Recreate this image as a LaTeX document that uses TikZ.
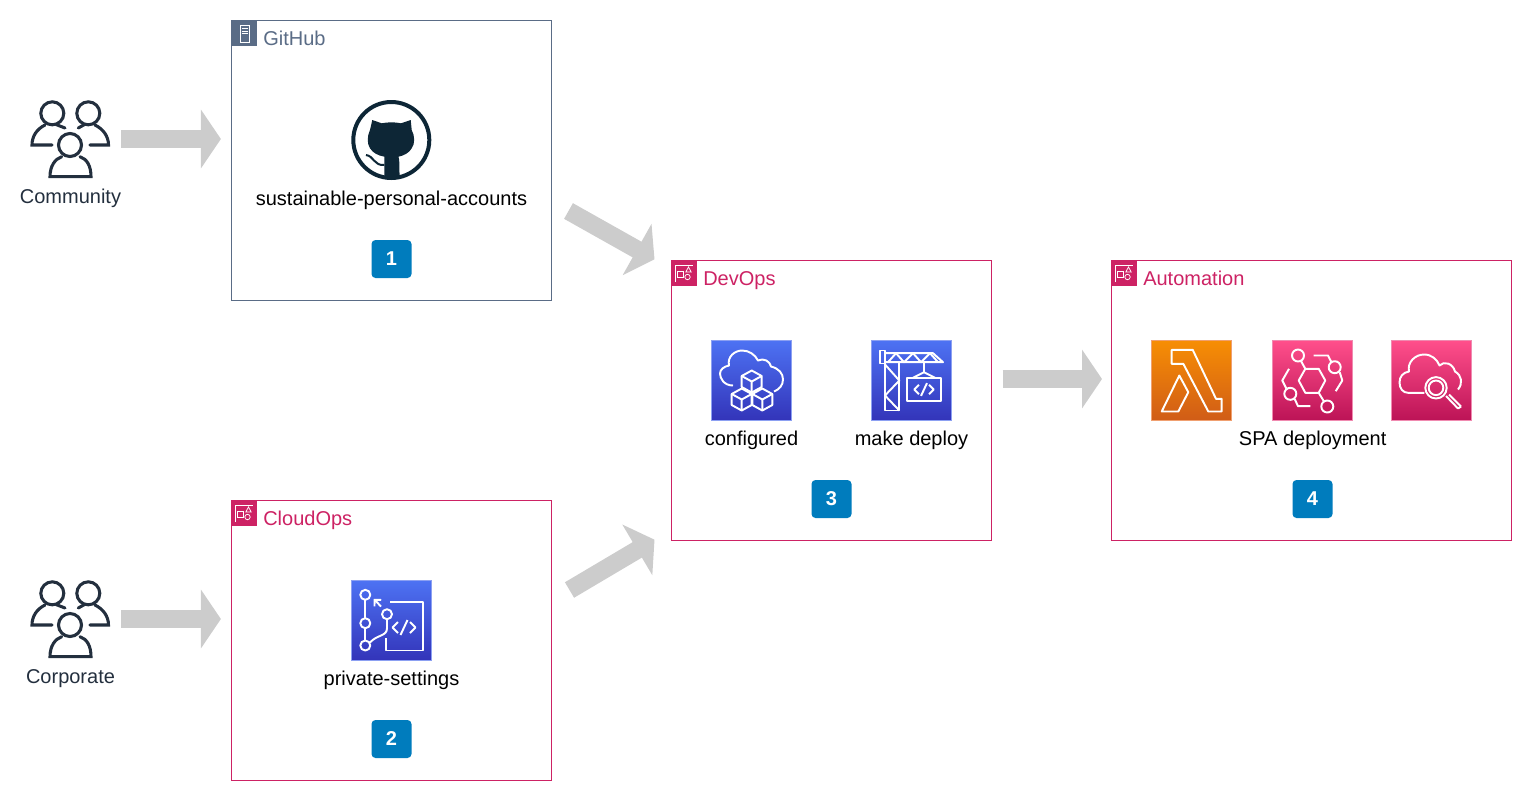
\documentclass[tikz,border=0pt]{standalone}
\usepackage{fontspec}
\setmainfont{Liberation Sans}
\usetikzlibrary{arrows.meta,shapes.geometric}
\definecolor{ghgrey}{HTML}{5A6C86}
\definecolor{awspink}{HTML}{CD2264}
\definecolor{badgeblue}{HTML}{007CBD}
\definecolor{flowgrey}{HTML}{CCCCCC}
\definecolor{inkblue}{HTML}{232F3E}
\definecolor{catblue}{HTML}{0D2636}
\definecolor{blue1}{HTML}{4D72F3}
\definecolor{blue2}{HTML}{3334B9}
\definecolor{blue3}{HTML}{8CA0F2}
\definecolor{orange1}{HTML}{F78E04}
\definecolor{orange2}{HTML}{D05C17}
\definecolor{orange3}{HTML}{F0A070}
\definecolor{pink1}{HTML}{FF4F8B}
\definecolor{pink2}{HTML}{BC1356}
\definecolor{pink3}{HTML}{F08AB0}
\tikzset{
  groupbox/.style={draw=#1, fill=white, line width=0.75pt, minimum width=240pt, minimum height=209.5pt, inner sep=0pt},
  flagbox/.style={fill=#1, minimum size=18.75pt, inner sep=0pt},
  grouplabel/.style={text=#1, anchor=base west, font=\fontsize{15}{18}\selectfont, inner sep=0pt},
  caption/.style={text=black, anchor=base, font=\fontsize{15}{18}\selectfont, inner sep=0pt},
  peoplecaption/.style={text=inkblue, anchor=base, font=\fontsize{15}{18}\selectfont, inner sep=0pt},
  badge/.style={fill=badgeblue, rounded corners=3pt, minimum width=30pt, minimum height=28.5pt, inner sep=0pt, text=white, font=\fontsize{15}{18}\selectfont\bfseries},
  bluetile/.style={top color=blue1, bottom color=blue2, draw=blue3, line width=0.5pt, minimum size=60pt, inner sep=0pt},
  orangetile/.style={top color=orange1, bottom color=orange2, draw=orange3, line width=0.5pt, minimum size=60pt, inner sep=0pt},
  pinktile/.style={top color=pink1, bottom color=pink2, draw=pink3, line width=0.5pt, minimum size=60pt, inner sep=0pt},
  flowarrow/.style={draw=flowgrey, line width=13.5pt, line cap=butt, -{Triangle[length=15pt,width=43.5pt]}},
  glyph/.style={draw=white, line width=1.45pt, line join=round, fill=none},
  flagglyph/.style={draw=white, line width=0.55pt, fill=none},
  peopleline/.style={draw=inkblue, line width=2.3pt, line cap=round, fill=none}
}
% little pieces used more than once
\newcommand{\codeglyph}[2]{%
  \draw[glyph] (#1-6,#2-5.5) -- (#1-11.5,#2) -- (#1-6,#2+5.5);
  \draw[glyph] (#1+6,#2-5.5) -- (#1+11.5,#2) -- (#1+6,#2+5.5);
  \draw[glyph] (#1+3.5,#2-7.5) -- (#1-3.5,#2+7.5);}
\newcommand{\cubeglyph}[2]{%
  \draw[glyph] (#1,#2-11) -- (#1+10,#2-5.5) -- (#1+10,#2+5.5) -- (#1,#2+11) -- (#1-10,#2+5.5) -- (#1-10,#2-5.5) -- cycle;
  \draw[glyph] (#1-10,#2-5.5) -- (#1,#2) -- (#1+10,#2-5.5) (#1,#2) -- (#1,#2+11);}
\newcommand{\peopleglyph}[2]{%
  \begin{scope}[shift={(#1,#2)}]
    \draw[peopleline] (-17.7,-25.7) circle (11.5) (18.3,-25.7) circle (11.5) (0,6) circle (11.5);
    \draw[peopleline] (-25,-14) .. controls (-33,-10) and (-38,-3) .. (-38,6) -- (-18,6);
    \draw[peopleline] (-14,-14.5) -- (-5,-11);
    \draw[peopleline] (25,-14) .. controls (33,-10) and (38.5,-3) .. (38.5,6) -- (20,6);
    \draw[peopleline] (14.5,-14.5) -- (8.3,-11);
    \draw[peopleline] (-8.3,17.7) .. controls (-15,20) and (-20,27) .. (-20,37.7) -- (21,37.7) .. controls (21,27) and (17,20) .. (10,17.7);
  \end{scope}}
\newcommand{\groupglyph}[2]{%
  \begin{scope}[shift={(#1,#2)}]
    \draw[flagglyph] (4,21) -- (4,4) -- (21,4);
    \draw[flagglyph] (6,10) rectangle (12,16);
    \draw[flagglyph] (17,6) -- (14.3,11) -- (19.7,11) -- cycle;
    \draw[flagglyph] (16,16) circle (2.7);
  \end{scope}}

\begin{document}
\begin{tikzpicture}[x=0.75pt,y=-0.75pt]
    \useasboundingbox (0,0) rectangle (1532,801);

    % groups
    \node[groupbox=ghgrey] (github) at (391,160.5) {};
    \node[groupbox=awspink] (cloudops) at (391,640.5) {};
    \node[groupbox=awspink] (devops) at (831,400.5) {};
    \node[groupbox=awspink, minimum width=300pt] (automation) at (1311,400.5) {};

    \node[flagbox=ghgrey] (githubflag) at (244,33.5) {};
    \node[flagbox=awspink] (cloudopsflag) at (244,513.5) {};
    \node[flagbox=awspink] (devopsflag) at (684,273.5) {};
    \node[flagbox=awspink] (automationflag) at (1124,273.5) {};
    \draw[flagglyph] (240,25.5) rectangle (249,42.5) (241.5,28.5) -- (247.5,28.5) (241.5,31) -- (247.5,31) (241.5,33.5) -- (247.5,33.5);
    \groupglyph{231.5}{501}
    \groupglyph{671.5}{261}
    \groupglyph{1111.5}{261}

    \node[grouplabel=ghgrey] (githublabel) at (263,45) {GitHub};
    \node[grouplabel=awspink] (cloudopslabel) at (263,525) {CloudOps};
    \node[grouplabel=awspink] (devopslabel) at (703,285) {DevOps};
    \node[grouplabel=awspink] (automationlabel) at (1143,285) {Automation};

    % people
    \node[minimum size=60pt, inner sep=0pt] (community) at (70,139) {};
    \node[minimum size=60pt, inner sep=0pt] (corporate) at (70,619) {};
    \peopleglyph{70}{139}
    \peopleglyph{70}{619}
    \node[peoplecaption] (communitytext) at (70.5,203) {Community};
    \node[peoplecaption] (corporatetext) at (70.5,683) {Corporate};

    % GitHub logo
    \node[circle, draw=catblue, line width=3pt, minimum size=57pt, inner sep=0pt] (octocat) at (391.3,140) {};
    \begin{scope}[shift={(391,140)}]
      \fill[catblue] (-18.7,-20) -- (-9.3,-16.7) .. controls (-3,-18) and (4,-18) .. (10,-16.7) -- (19.7,-20) -- (20.7,-10)
        .. controls (24,-4) and (24,4) .. (20.7,8.3) .. controls (18,13) and (13,15.5) .. (7.5,16.7) .. controls (8.5,20) and (8.5,24) .. (8.5,38)
        -- (-6.7,38) -- (-6.7,16.7) .. controls (-13,15.5) and (-18,13) .. (-21,8.3) .. controls (-24,4) and (-24,-4) .. (-21,-10) -- cycle;
      \draw[catblue, line width=1.5pt] (-25,15) .. controls (-17,16) and (-17,26) .. (-6.7,25);
    \end{scope}
    \node[caption] (repotext) at (391.5,205) {sustainable-personal-accounts};

    % private settings
    \node[bluetile] (privatetile) at (391,620.5) {};
    \begin{scope}[shift={(351,580.5)}]
      \draw[glyph] (14.3,14.3) circle (5) (14.3,42.7) circle (5) (14.3,65) circle (5) (36,33.7) circle (5);
      \draw[glyph] (14.3,19.3) -- (14.3,37.7) (14.3,47.7) -- (14.3,60);
      \draw[glyph] (19,62) .. controls (26,54) and (36,56) .. (36,47.7) -- (36,38.7);
      \draw[glyph,-{Straight Barb[length=3.5pt,width=7pt]}] (30,26) -- (22.7,18.3);
      \draw[glyph] (39.3,21.7) -- (72,21.7) -- (72,70) -- (35.3,70) -- (35.3,57.7);
      \codeglyph{53}{47}
    \end{scope}
    \node[caption] (privatetext) at (391.5,685) {private-settings};

    % devops tiles
    \node[bluetile] (configtile) at (751,380.5) {};
    \begin{scope}[shift={(711,340.5)}]
      \draw[glyph] (22,45) .. controls (13,45) and (9,38) .. (9,33) .. controls (9,29) and (13,26) .. (18,25)
        .. controls (16,16) and (24,10) .. (31,10) .. controls (38,10) and (44,14) .. (47,20)
        .. controls (53,17) and (59,21) .. (60,26) .. controls (68,28) and (72,33) .. (72,39) .. controls (72,45) and (68,49) .. (63,51);
      \cubeglyph{40.7}{41}
      \cubeglyph{30.7}{59}
      \cubeglyph{51.3}{59}
    \end{scope}
    \node[caption] (configtext) at (751.5,445) {configured};

    \node[bluetile] (deploytile) at (911,380.5) {};
    \begin{scope}[shift={(871,340.5)}]
      \draw[glyph] (9,10) rectangle (14,23);
      \draw[glyph] (14,12.7) -- (62,12.7) -- (72,21.7) -- (14,21.7);
      \draw[glyph] (17,21.7) -- (25,12.7) -- (33,21.7) -- (42,12.7) -- (50,21.7) -- (59,12.7) -- (67,21.7);
      \draw[glyph] (14,21.7) -- (14,70) -- (28.3,70) -- (28.3,21.7);
      \draw[glyph] (14,24) -- (28.3,40) -- (14,55) -- (28.3,70);
      \draw[glyph] (53,21.7) -- (53,31.7) (42,37.3) -- (53,31.7) -- (64,37.3);
      \draw[glyph] (36.3,37.3) rectangle (69.7,60.7);
      \begin{scope}[shift={(53,49)}, scale=0.85]
        \codeglyph{0}{0}
      \end{scope}
    \end{scope}
    \node[caption] (deploytext) at (911.5,445) {make deploy};

    % automation tiles
    \node[orangetile] (lambdatile) at (1191,380.5) {};
    \begin{scope}[shift={(1151,340.5)}]
      \draw[glyph] (20.7,9.3) -- (41.7,9.3) -- (65,58.3) -- (70.7,58.3) -- (70.7,71) -- (57.3,71) -- (32.3,23.3) -- (20.7,23.3) -- cycle;
      \draw[glyph] (28.3,35) -- (37.3,51.7) -- (27.3,71) -- (10.7,71) -- cycle;
    \end{scope}

    \node[pinktile] (eventtile) at (1312,380.5) {};
    \begin{scope}[shift={(1272,340.5)}]
      \draw[glyph] (33.3,28.3) -- (46.7,28.3) -- (53.3,40) -- (46.7,52.3) -- (33.3,52.3) -- (26.7,40) -- cycle;
      \draw[glyph] (26,15) circle (6) (62.7,26.7) circle (6) (18.3,53.3) circle (6) (55.3,66) circle (6);
      \draw[glyph] (29,20.5) -- (33.3,28.3) (46.7,52.3) -- (52,61);
      \draw[glyph] (41.7,15) -- (56,15) -- (59.3,21.5);
      \draw[glyph] (67.7,31.7) -- (70.3,40) -- (63.7,50.7);
      \draw[glyph] (17,28.3) -- (10.3,40) -- (14.3,48);
      \draw[glyph] (22.7,58.5) -- (26,65.7) -- (38.3,65.7);
    \end{scope}

    \node[pinktile] (searchtile) at (1431,380.5) {};
    \begin{scope}[shift={(1391,340.5)}]
      \draw[glyph] (33.3,52.3) -- (17,52.3) .. controls (12,52.3) and (8.5,48) .. (8.5,42) .. controls (8.5,36) and (12,32) .. (18,31)
        .. controls (16,22) and (24,14) .. (33,14) .. controls (41,14) and (46,19) .. (48.5,25) .. controls (53,20) and (62,23) .. (64,31)
        .. controls (71,35) and (72,43) .. (67,49);
      \draw[glyph] (45,47.3) circle (10.7) (45,47.3) circle (7.3);
      \draw[glyph] (55,55.5) -- (67,68) (58,54) -- (70,66) (67,68) -- (70,66);
    \end{scope}
    \node[caption] (spatext) at (1312.7,445) {SPA deployment};

    % badges
    \node[badge] (badge1) at (391.5,259) {1};
    \node[badge] (badge2) at (391.5,739) {2};
    \node[badge] (badge3) at (831.5,499) {3};
    \node[badge] (badge4) at (1312.5,499) {4};

    % flow
    \draw[flowarrow, shorten <=8.25pt, shorten >=7.2pt] (community.east) -- (community.east -| github.west);
    \draw[flowarrow, shorten <=8.25pt, shorten >=7.2pt] (corporate.east) -- (corporate.east -| cloudops.west);
    \draw[flowarrow] ([shift={(17,50.5)}]github.east) -- ([shift={(-16,-1)}]devops.north west);
    \draw[flowarrow] ([shift={(18,-50.5)}]cloudops.east) -- ([shift={(-16,-1)}]devops.south west);
    \draw[flowarrow] ([shift={(11,-21.5)}]devops.east) -- ([shift={(-8.5,-21.5)}]automation.west);
\end{tikzpicture}
\end{document}
